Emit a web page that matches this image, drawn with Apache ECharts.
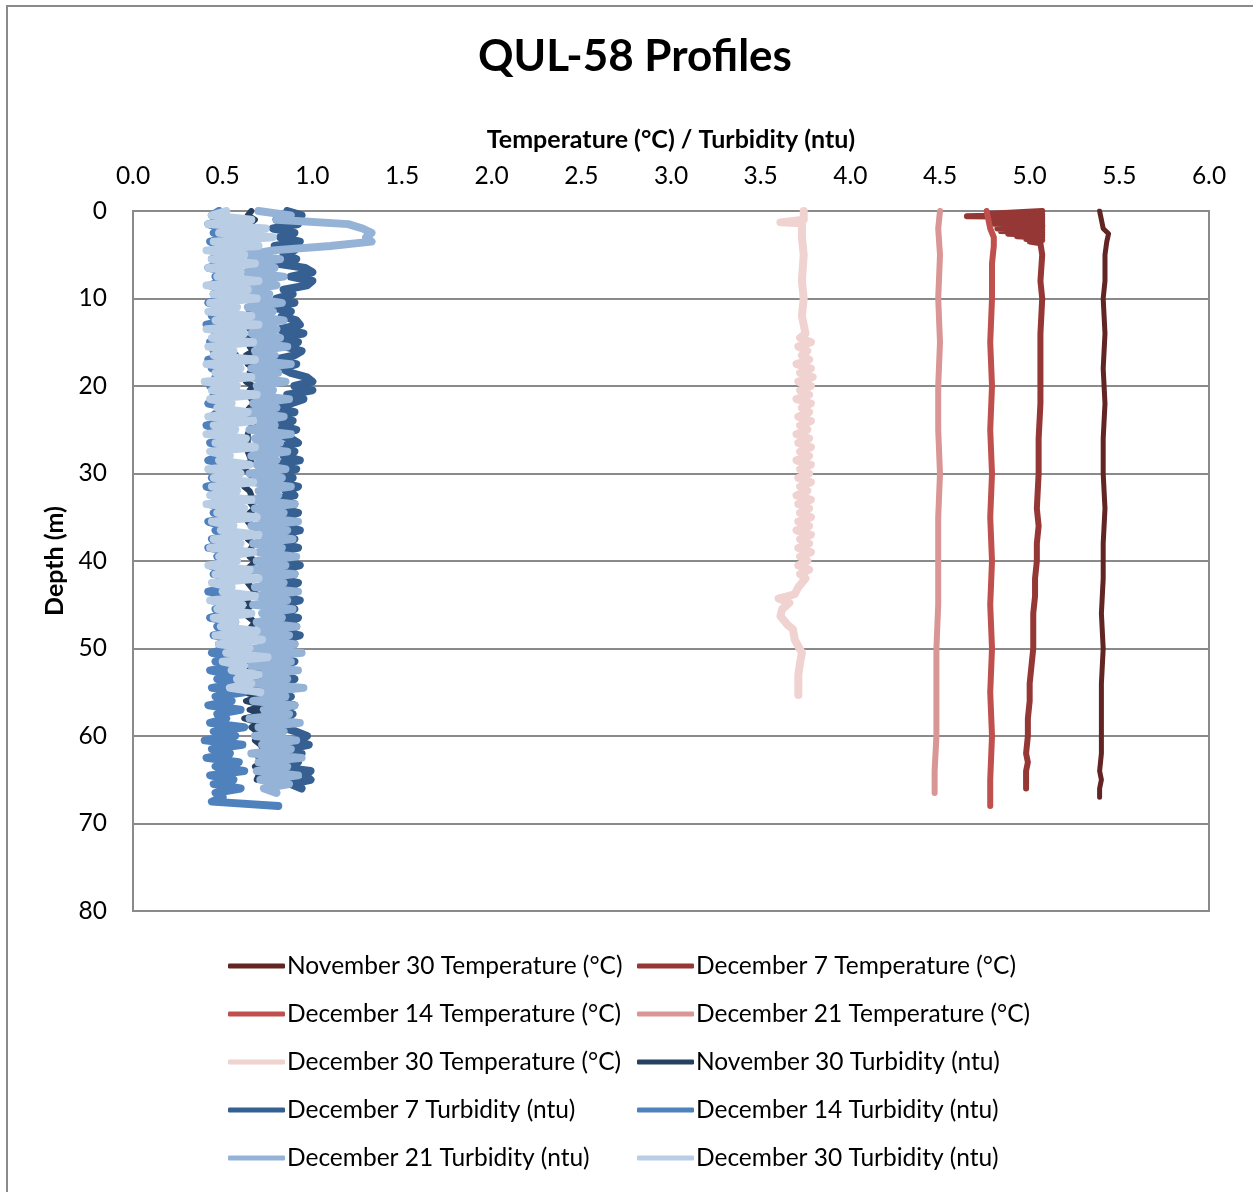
<!DOCTYPE html>
<html>
<head>
<meta charset="utf-8">
<title>QUL-58 Profiles</title>
<script src="https://cdn.jsdelivr.net/npm/echarts@6/dist/echarts.min.js"></script>
<style>
  html, body { margin: 0; padding: 0; background: #fff; }
  #main { width: 1253px; height: 1192px; }
</style>
</head>
<body>
<div id="main"></div>
<script>
// series names (legend order)
var names = [
    'November 30 Temperature (°C)', 'December 7 Temperature (°C)',
    'December 14 Temperature (°C)', 'December 21 Temperature (°C)',
    'December 30 Temperature (°C)', 'November 30 Turbidity (ntu)',
    'December 7 Turbidity (ntu)', 'December 14 Turbidity (ntu)',
    'December 21 Turbidity (ntu)', 'December 30 Turbidity (ntu)'
];
var colors = ['#632523', '#953735', '#C0504D', '#D99694', '#F0D2D1',
              '#254061', '#376092', '#4F81BD', '#95B3D7', '#B9CDE5'];

var xTicks = [0, 0.5, 1, 1.5, 2, 2.5, 3, 3.5, 4, 4.5, 5, 5.5, 6];
var depthTicks = [0, 10, 20, 30, 40, 50, 60, 70, 80];

// temperature profiles: [temperature, depth]
var nov30Temp = [[5.39,0],[5.40,1],[5.41,2],[5.44,2.6],[5.43,3.5],[5.42,5],[5.42,8],[5.41,10],[5.42,14],[5.41,18],
    [5.42,22],[5.41,26],[5.41,30],[5.42,34],[5.41,38],[5.41,42],[5.40,46],[5.41,50],[5.40,54],[5.40,58],
    [5.40,62],[5.39,64],[5.40,65],[5.39,66],[5.39,67]];
var dec7Temp = [[5.07,0],[5.07,0.2],[4.78,0.3],[5.07,0.4],[4.65,0.6],[5.07,0.7],[4.79,0.85],[5.07,1.0],[4.80,1.15],[5.07,1.3],
    [4.80,1.45],[5.07,1.6],[5.07,1.85],[4.82,2.0],[5.07,2.15],[4.84,2.3],[5.07,2.45],[4.88,2.6],[5.07,2.75],[4.93,2.9],
    [5.07,3.05],[4.98,3.2],[5.07,3.35],[5.00,3.5],[5.06,3.7],[5.07,5],[5.06,8],[5.07,10],[5.06,14],[5.06,18],
    [5.06,22],[5.05,26],[5.05,30],[5.04,34],[5.05,36],[5.04,38],[5.04,40],[5.03,42],[5.03,44],[5.02,46],
    [5.02,48],[5.02,50],[5.01,52],[5.00,54],[5.00,56],[4.99,58],[4.99,60],[4.98,62],[4.99,63],[4.98,64],
    [4.98,65],[4.98,66]];
var dec14Temp = [[4.76,0],[4.77,1],[4.78,2],[4.80,3],[4.80,4],[4.79,6],[4.79,10],[4.78,15],[4.79,20],[4.78,25],
    [4.79,30],[4.78,35],[4.79,40],[4.78,45],[4.79,50],[4.78,55],[4.79,60],[4.78,65],[4.78,68]];
var dec21Temp = [[4.50,0],[4.49,2],[4.50,5],[4.49,10],[4.50,15],[4.49,20],[4.49,25],[4.50,30],[4.49,35],[4.49,40],
    [4.49,45],[4.48,50],[4.48,55],[4.48,60],[4.47,64],[4.47,66.5]];
var dec30Temp = [[3.74,0],[3.74,1],[3.61,1.3],[3.73,1.4],[3.73,3],[3.74,5],[3.73,8],[3.74,10],[3.73,12],[3.75,14],
    [3.72,14.5],[3.78,15],[3.71,15.5],[3.76,16],[3.73,16.5],[3.77,17],[3.70,17.5],[3.78,18],[3.72,18.5],[3.79,19],
    [3.71,19.5],[3.78,20],[3.72,20.5],[3.77,21],[3.70,21.5],[3.78,22],[3.73,22.5],[3.77,23],[3.71,23.5],[3.78,24],
    [3.72,24.5],[3.76,25],[3.70,25.5],[3.77,26],[3.71,26.5],[3.78,27],[3.72,27.5],[3.77,28],[3.70,28.5],[3.78,29],
    [3.72,29.5],[3.77,30],[3.71,30.5],[3.78,31],[3.72,31.5],[3.76,32],[3.70,32.5],[3.78,33],[3.71,33.5],[3.77,34],
    [3.72,34.5],[3.78,35],[3.71,35.5],[3.77,36],[3.70,36.5],[3.78,37],[3.72,37.5],[3.77,38],[3.71,38.5],[3.78,39],
    [3.72,39.5],[3.76,40],[3.71,40.5],[3.77,41],[3.72,41.5],[3.75,42],[3.71,43],[3.69,43.8],[3.60,44.3],[3.66,44.8],
    [3.62,45.5],[3.61,46.3],[3.65,47.3],[3.68,47.8],[3.69,49],[3.73,50.5],[3.72,51.6],[3.71,53],[3.71,55.3]];

// turbidity profiles: one value every 0.5 m from the surface
var depthStep = 0.5;
var nov30Turb = [0.66,0.64,0.68,0.65,0.67,0.63,0.66,0.69,0.65,0.64,0.67,0.66,0.63,0.68,0.65,0.66,0.64,0.67,0.65,0.63,
    0.66,0.68,0.64,0.65,0.67,0.66,0.63,0.65,0.68,0.64,0.66,0.65,0.67,0.63,0.66,0.64,0.68,0.65,0.66,0.63,
    0.67,0.65,0.64,0.66,0.68,0.65,0.63,0.66,0.64,0.67,0.65,
    0.64,0.64,0.64,0.64,0.64,0.65,0.66,0.63,0.62,0.65,0.67,0.64,0.62,0.65,0.66,0.64,
    0.66,0.68,0.65,0.67,0.64,0.66,0.68,0.65,0.64,0.67,0.66,0.64,0.65,0.68,0.66,0.63,0.65,0.67,0.64,0.66,
    0.68,0.65,0.63,0.66,0.64,0.62,0.65,0.68,0.66,0.64,0.67,0.65,0.63,0.66,
    0.70,0.62,0.73,0.63,0.72,0.61,0.71,0.64,0.74,0.62,0.70,0.63,0.73,0.65,0.72,0.62,0.70,0.66,
    0.69,0.72,0.68,0.71,0.73,0.69,0.70,0.72,0.68,0.71,0.70,0.69];
var dec7Turb = [0.86,0.94,0.80,
    0.92,0.78,0.90,0.82,0.93,0.79,0.90,0.84,0.91,0.80,
    0.96,1.00,0.88,1.00,0.97,0.84,
    0.89,0.80,0.90,0.78,0.88,0.83,0.91,
    0.93,0.82,0.95,0.80,0.92,0.85,0.94,
    0.90,0.79,0.91,0.83,0.88,0.97,
    1.00,0.90,1.00,0.86,0.95,
    0.88,0.80,0.90,0.78,0.89,0.82,0.91,0.79,0.88,
    0.92,0.80,0.90,0.84,0.93,0.78,0.91,0.82,0.89,0.80,0.92,0.85,0.90,0.79,
    0.90,0.82,0.92,0.79,0.91,0.84,0.93,0.80,0.90,0.83,0.92,0.78,0.89,0.85,0.93,0.81,0.90,0.79,0.92,0.84,
    0.91,0.80,0.93,0.82,0.90,0.78,0.92,0.85,0.91,0.80,0.93,0.83,0.90,0.81,
    0.89,0.80,0.90,0.78,0.88,0.83,0.90,0.79,0.89,0.82,0.88,0.77,0.90,0.81,0.89,0.79,0.90,0.83,0.91,
    0.97,0.90,0.98,0.86,0.94,
    0.86,0.92,0.80,0.99,0.96,0.99,0.88,0.94];
var dec14Turb = [0.48,0.44,0.53,0.42,0.50,0.45,0.55,0.43,0.49,0.46,0.52,
    0.44,0.51,0.42,0.55,0.46,0.49,0.43,0.53,0.45,0.50,0.42,0.56,0.47,0.44,0.52,0.41,0.49,0.46,0.54,
    0.43,0.50,0.45,0.57,0.42,0.48,0.44,0.53,0.46,0.51,
    0.43,0.55,0.45,0.50,0.42,0.54,0.47,0.44,0.52,0.41,0.49,0.46,0.56,0.43,0.51,0.45,0.48,0.42,0.55,0.46,
    0.50,0.44,0.53,0.41,0.49,0.47,0.54,0.43,0.51,0.45,0.57,0.42,0.50,
    0.46,0.58,0.44,0.52,0.42,0.60,0.47,0.55,0.43,0.50,0.45,0.58,0.48,0.53,0.42,0.56,0.44,0.61,0.46,0.51,
    0.43,0.57,0.47,0.54,0.45,0.59,0.48,0.52,0.44,0.56,0.46,0.60,0.43,0.55,0.47,
    0.58,0.44,0.62,0.46,0.55,0.42,0.60,0.47,0.52,0.43,0.62,0.45,0.57,0.40,0.61,0.44,0.54,0.41,0.59,0.46,
    0.62,0.43,0.56,0.45,0.60,0.46,0.50,0.44,0.81];
var dec21Turb = [0.70,0.88,0.80,
    1.20,1.28,1.33,1.30,1.33,1.10,
    0.78,0.64,0.82,0.66,0.79,0.63,0.84,0.68,0.80,0.62,0.76,0.66,0.83,0.64,0.78,0.67,0.84,0.63,0.80,0.66,
    0.82,0.64,0.86,0.68,0.79,0.63,0.88,0.66,0.81,0.65,0.85,0.69,0.78,0.64,0.87,0.67,0.80,0.63,0.84,0.70,
    0.79,0.65,0.88,0.68,0.82,0.64,0.86,0.66,0.80,0.69,0.85,0.65,0.83,0.67,0.88,0.70,0.81,0.66,
    0.90,0.68,0.84,0.70,0.92,0.66,0.86,0.72,0.89,0.67,0.83,0.70,0.91,0.69,0.85,0.66,0.90,0.71,0.84,0.68,
    0.92,0.70,0.86,0.67,0.89,0.72,0.83,0.69,0.91,0.66,0.87,0.70,0.90,0.68,
    0.94,0.70,0.88,0.66,0.92,0.72,0.86,0.68,0.95,0.71,0.85,0.67,0.90,0.73,0.87,0.65,0.93,0.70,0.84,0.68,
    0.91,0.72,0.88,0.66,0.94,0.70,0.86,0.69,0.92,0.71,0.87,0.73,0.80];
var dec30Turb = [0.52,0.44,0.66,0.42,0.74,0.48,0.78,0.45,0.70,0.41,0.62,
    0.44,0.68,0.42,0.60,0.47,0.70,0.41,0.64,0.45,0.69,0.43,0.58,0.42,0.66,0.46,0.70,0.41,
    0.62,0.44,0.67,0.42,0.56,0.45,0.68,0.41,0.60,0.46,0.66,0.40,0.58,0.44,0.69,0.43,0.55,0.47,0.64,0.42,
    0.67,0.45,0.57,0.41,0.63,0.46,0.68,0.43,0.54,0.48,0.65,0.42,0.60,0.45,0.67,0.44,0.58,
    0.43,0.66,0.41,0.62,0.47,0.69,0.44,0.56,0.49,0.70,0.45,0.60,0.43,0.67,0.48,0.58,0.42,0.65,0.46,0.70,
    0.44,0.55,0.50,0.68,0.43,0.61,0.47,0.66,0.45,0.57,0.49,0.69,0.46,
    0.72,0.48,0.65,0.52,0.75,0.50,0.62,0.55,0.70,0.58,0.66,0.54,0.71];

function withDepth(vals) {
    return vals.map(function (v, i) { return [v, i * depthStep]; });
}

var profiles = [nov30Temp, dec7Temp, dec14Temp, dec21Temp, dec30Temp,
    withDepth(nov30Turb), withDepth(dec7Turb), withDepth(dec14Turb), withDepth(dec21Turb), withDepth(dec30Turb)];
var lineWidths = [5, 6, 6, 6, 8, 6, 8, 8, 8, 8];

var font = 'Lato, "Open Sans", sans-serif';
var myChart = echarts.init(document.getElementById('main'));

var series = names.map(function (n, i) {
    return {
        name: n,
        type: 'line',
        data: profiles[i],
        showSymbol: false,
        symbol: 'none',
        animation: false,
        color: colors[i],
        lineStyle: { width: lineWidths[i], color: colors[i], cap: 'round', join: 'round' },
        emphasis: { disabled: true }
    };
});

function legendFor(list, left) {
    return {
        orient: 'vertical',
        left: left,
        top: 947,
        data: list,
        icon: 'roundRect',
        itemWidth: 57,
        itemHeight: 5,
        itemGap: 20,
        selectedMode: false,
        textStyle: { fontFamily: font, fontSize: 24.5, color: '#000', lineHeight: 28, padding: [0, 0, 0, -3] }
    };
}

var option = {
    backgroundColor: '#fff',
    animation: false,
    color: colors,
    title: {
        text: 'QUL-58 Profiles',
        left: 630,
        textAlign: 'center',
        top: 30,
        textStyle: { fontFamily: font, fontSize: 44, fontWeight: 'bold', color: '#000' }
    },
    graphic: [{
        type: 'rect',
        shape: { x: 7, y: 6, width: 1270, height: 1210 },
        style: { fill: 'none', stroke: '#8a8a8a', lineWidth: 2 },
        silent: true
    }],
    legend: [
        legendFor([names[0], names[2], names[4], names[6], names[8]], 223),
        legendFor([names[1], names[3], names[5], names[7], names[9]], 632)
    ],
    grid: {
        left: 133, top: 211, width: 1076, height: 700,
        show: true, borderColor: '#8a8a8a', borderWidth: 2, backgroundColor: 'transparent'
    },
    xAxis: {
        type: 'value',
        position: 'top',
        min: xTicks[0],
        max: xTicks[xTicks.length - 1],
        interval: 0.5,
        name: 'Temperature (°C) / Turbidity (ntu)',
        nameLocation: 'middle',
        nameGap: 59,
        nameTextStyle: { fontFamily: font, fontSize: 25, fontWeight: 'bold', color: '#000' },
        axisLine: { show: false },
        axisTick: { show: false },
        splitLine: { show: false },
        axisLabel: {
            margin: 22, fontFamily: font, fontSize: 24.5, color: '#000',
            formatter: function (v) { return v.toFixed(1); }
        }
    },
    yAxis: {
        type: 'value',
        inverse: true,
        min: depthTicks[0],
        max: depthTicks[depthTicks.length - 1],
        interval: 10,
        name: 'Depth (m)',
        nameLocation: 'middle',
        nameGap: 62,
        nameRotate: 90,
        nameTextStyle: { fontFamily: font, fontSize: 25, fontWeight: 'bold', color: '#000' },
        axisLine: { show: false },
        axisTick: { show: false },
        splitLine: { lineStyle: { color: '#8a8a8a', width: 2 } },
        axisLabel: { margin: 26, fontFamily: font, fontSize: 24.5, color: '#000' }
    },
    series: series
};

myChart.setOption(option);
</script>
</body>
</html>
